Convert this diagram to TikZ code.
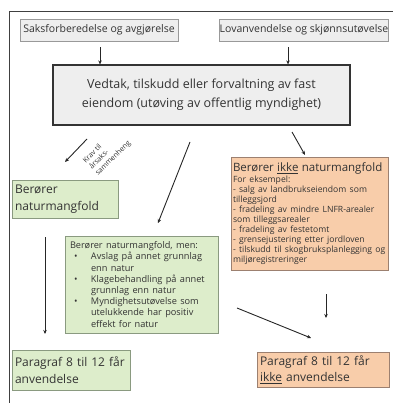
\documentclass[tikz,border=0pt]{standalone}
\usepackage{fontspec}
\setmainfont{Open Sans}
\usetikzlibrary{arrows.meta}
\definecolor{grnfill}{HTML}{DDEDCB}
\definecolor{grnline}{HTML}{8A9A80}
\definecolor{orfill}{HTML}{F8CDAA}
\definecolor{orline}{HTML}{9C8070}
\definecolor{grayfill}{HTML}{EEEEEE}
\definecolor{txt}{HTML}{333333}
\newcommand{\bitem}[1]{\par\noindent\hangindent=21pt\hangafter=1\makebox[21pt][l]{\hspace{4pt}\textbullet}#1}
\tikzset{
  topbox/.style={draw=gray!80, fill=grayfill, line width=0.6pt, inner sep=0pt, font=\fontsize{10.5}{12}\selectfont, text=txt},
  mainbox/.style={draw=black!80, fill=grayfill, line width=1.2pt, inner sep=0pt, align=center, font=\fontsize{12.5}{19}\selectfont, text=txt},
  greenbox/.style={draw=grnline, fill=grnfill, line width=0.6pt, inner sep=0pt, text=txt},
  orangebox/.style={draw=orline, fill=orfill, line width=0.6pt, inner sep=0pt, text=txt},
  arr/.style={-{Stealth[length=4pt,width=3.5pt]}, line width=0.9pt, black!85}
}
\begin{document}
\begin{tikzpicture}[x=1pt,y=-1pt]
\useasboundingbox (0,0) rectangle (393,403);
\draw[line width=1pt, black!75] (9,403) -- (9,12) -- (393,12);

\node[topbox, minimum width=158pt, minimum height=22pt] (b1) at (99,30) {Saksforberedelse og avgjørelse};
\node[topbox, minimum width=168pt, minimum height=22pt] (b2) at (304,30) {Lovanvendelse og skjønnsutøvelse};
\node[mainbox, minimum width=297pt, minimum height=60pt] (main) at (201.5,95) {Vedtak, tilskudd eller forvaltning av fast\\eiendom (utøving av offentlig myndighet)};

\node[greenbox, minimum width=106pt, minimum height=38pt, text width=100pt, align=left, font=\fontsize{12}{16.5}\selectfont] (g1) at (65,199) {Berører\\naturmangfold};

\node[orangebox, minimum width=157pt, minimum height=113pt, text width=154pt, align=left] (or) at (310,214) {{\fontsize{11.5}{14}\selectfont Berører \underline{ikke} naturmangfold\par}
{\fontsize{8.6}{10.1}\selectfont For eksempel:\\
- salg av landbrukseiendom som\\tilleggsjord\\
- fradeling av mindre LNFR-arealer\\som tilleggsarealer\\
- fradeling av festetomt\\
- grensejustering etter jordloven\\
- tilskudd til skogbruksplanlegging og\\miljøregistreringer\par}};

\node[greenbox, minimum width=153pt, minimum height=97pt, text width=143pt, align=left] (gm) at (141.5,284.5) {\fontsize{9.2}{11.2}\selectfont\noindent Berører naturmangfold, men:
\bitem{Avslag på annet grunnlag\newline enn natur}
\bitem{Klagebehandling på annet\newline grunnlag enn natur}
\bitem{Myndighetsutøvelse som\newline utelukkende har positiv\newline effekt for natur}\par};

\node[greenbox, minimum width=118pt, minimum height=40pt, text width=112pt, align=left, font=\fontsize{12}{16.5}\selectfont] (p1) at (71,370) {Paragraf 8 til 12 får\\anvendelse};
\node[orangebox, minimum width=132pt, minimum height=35pt, text width=126pt, align=left, font=\fontsize{12}{16}\selectfont] (p2) at (323,369.5) {Paragraf 8 til 12 får\\\underline{ikke} anvendelse};

\coordinate (a1s) at (87,139);
\coordinate (a1e) at (65,162);
\coordinate (a2s) at (190,142);
\coordinate (a2e) at (158,223);
\coordinate (a3s) at (292,132);
\coordinate (a3e) at (305,155);
\coordinate (a4s) at (45,237);
\coordinate (a4e) at (45,334);
\coordinate (a5s) at (326,294);
\coordinate (a5e) at (326,318);
\coordinate (a6s) at (237,308);
\coordinate (a6e) at (311,338);

\draw[arr] ([yshift=-6pt]b1.south -| 100,0) -- (100,0 |- main.north);
\draw[arr] ([yshift=-6pt]b2.south -| 288,0) -- (288,0 |- main.north);
\draw[arr] (a1s) -- (a1e);
\draw[arr] (a2s) -- (a2e);
\draw[arr] (a3s) -- (a3e);
\draw[arr] (a4s) -- (a4e);
\draw[arr] (a5s) -- (a5e);
\draw[arr] (a6s) -- (a6e);

\node[rotate=45, align=left, inner sep=0pt, font=\fontsize{7.2}{8.8}\selectfont, text=txt] (lbl) at (107,152) {Krav til\\årsaks-\\sammenheng};
\end{tikzpicture}
\end{document}
